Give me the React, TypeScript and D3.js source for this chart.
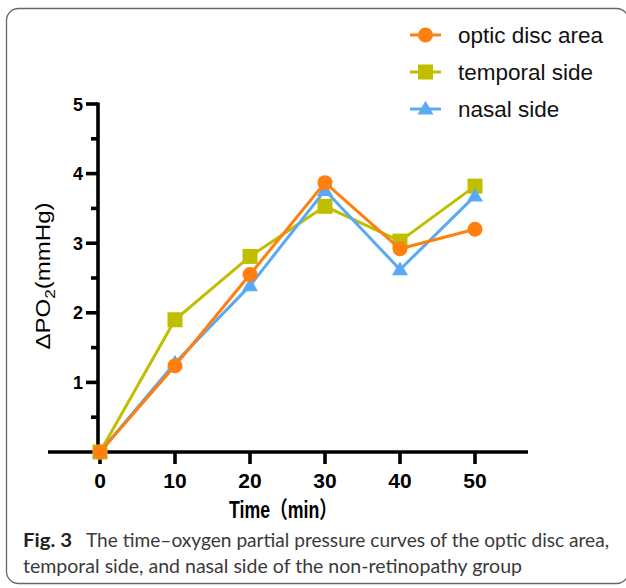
import { useEffect, useRef } from "react"
import * as d3 from "d3"

const times = [0, 10, 20, 30, 40, 50]
const opticDisc = [0, 1.24, 2.55, 3.87, 2.92, 3.2]
const temporal = [0, 1.9, 2.81, 3.53, 3.03, 3.82]
const nasal = [0, 1.28, 2.39, 3.76, 2.62, 3.68]

const seriesNames = ["optic disc area", "temporal side", "nasal side"]
const seriesColors = ["#FF7F0F", "#BFBF00", "#5AA9F5"]
const seriesShapes = ["circle", "square", "triangle"]

const yTicks = [1, 2, 3, 4, 5]

const W = 626
const H = 588

export default function App() {
  const svgRef = useRef<SVGSVGElement>(null)

  useEffect(() => {
    if (!svgRef.current) return
    const svg = d3.select(svgRef.current)
    svg.selectAll("*").remove()

    const x = d3.scaleLinear().domain([0, 50]).range([100, 475])
    const y = d3.scaleLinear().domain([0, 5]).range([452, 104])

    // frame
    svg.append("rect")
      .attr("x", 6.5).attr("y", 8.5)
      .attr("width", 622).attr("height", 575)
      .attr("rx", 12)
      .attr("fill", "#fff")
      .attr("stroke", "#666")
      .attr("stroke-width", 1.3)

    const axisW = 3.6

    // x axis
    svg.append("line")
      .attr("x1", 48).attr("x2", 528)
      .attr("y1", y(0)).attr("y2", y(0))
      .attr("stroke", "#000").attr("stroke-width", axisW)
    times.forEach((t) => {
      svg.append("line")
        .attr("x1", x(t)).attr("x2", x(t))
        .attr("y1", y(0)).attr("y2", y(0) + 12)
        .attr("stroke", "#000").attr("stroke-width", axisW)
      svg.append("text")
        .attr("x", x(t)).attr("y", 488)
        .attr("text-anchor", "middle")
        .attr("font-family", "'Liberation Sans', Arial, sans-serif")
        .attr("font-weight", "bold")
        .attr("font-size", 21)
        .text(t)
    })

    // y axis
    const ax = x(0) - 2
    svg.append("line")
      .attr("x1", ax).attr("x2", ax)
      .attr("y1", y(5) - 1.5).attr("y2", y(0))
      .attr("stroke", "#000").attr("stroke-width", axisW)
    d3.range(0.5, 5.5, 0.5).forEach((v) => {
      const major = Number.isInteger(v)
      svg.append("line")
        .attr("x1", ax - (major ? 12 : 7)).attr("x2", ax)
        .attr("y1", y(v)).attr("y2", y(v))
        .attr("stroke", "#000").attr("stroke-width", axisW)
    })
    yTicks.forEach((v) => {
      svg.append("text")
        .attr("x", 83).attr("y", y(v) + 6.5)
        .attr("text-anchor", "end")
        .attr("font-family", "'Liberation Sans', Arial, sans-serif")
        .attr("font-weight", "bold")
        .attr("font-size", 18)
        .text(v)
    })

    // axis titles
    svg.append("text")
      .attr("x", 283).attr("y", 518)
      .attr("text-anchor", "middle")
      .attr("font-family", "'Liberation Sans', 'Noto Sans CJK SC', sans-serif")
      .attr("font-weight", "bold")
      .attr("font-size", 23)
      .attr("textLength", 108)
      .attr("lengthAdjust", "spacingAndGlyphs")
      .text("Time（min）")

    const yl = svg.append("text")
      .attr("transform", "translate(50,276) rotate(-90)")
      .attr("text-anchor", "middle")
      .attr("font-family", "'Liberation Sans', Arial, sans-serif")
      .attr("font-size", 21)
      .attr("textLength", 147)
      .attr("lengthAdjust", "spacingAndGlyphs")
    yl.append("tspan").text("ΔPO")
    yl.append("tspan").attr("font-size", 15).attr("dy", 5).text("2")
    yl.append("tspan").attr("dy", -5).text("(mmHg)")

    // markers
    const drawMarker = (g: any, shape: string, cx: number, cy: number, color: string) => {
      if (shape === "circle") {
        g.append("circle").attr("cx", cx).attr("cy", cy).attr("r", 7.5).attr("fill", color)
      } else if (shape === "square") {
        g.append("rect").attr("x", cx - 7.5).attr("y", cy - 7.5)
          .attr("width", 15).attr("height", 15).attr("fill", color)
      } else {
        const sym = d3.symbol().type(d3.symbolTriangle).size(110)
        g.append("path").attr("transform", `translate(${cx},${cy + 1})`)
          .attr("d", sym()).attr("fill", color)
      }
    }

    const allSeries = [temporal, nasal, opticDisc]
    const order = [1, 2, 0]
    const line = d3.line<number>().x((_, i) => x(times[i])).y((d) => y(d))

    order.forEach((si, k) => {
      const data = allSeries[k]
      const g = svg.append("g")
      g.append("path")
        .attr("d", line(data) || "")
        .attr("fill", "none")
        .attr("stroke", seriesColors[si])
        .attr("stroke-width", 3)
      data.forEach((v, i) => drawMarker(g, seriesShapes[si], x(times[i]), y(v), seriesColors[si]))
    })

    // legend
    const rows = [35, 72, 109]
    seriesNames.forEach((name, i) => {
      const g = svg.append("g")
      g.append("line")
        .attr("x1", 410).attr("x2", 441)
        .attr("y1", rows[i]).attr("y2", rows[i])
        .attr("stroke", seriesColors[i]).attr("stroke-width", 3)
      drawMarker(g, seriesShapes[i], 425.5, rows[i], seriesColors[i])
      g.append("text")
        .attr("x", 458).attr("y", rows[i] + 8)
        .attr("font-family", "'Liberation Sans', Arial, sans-serif")
        .attr("font-size", 22.5)
        .attr("fill", "#111")
        .text(name)
    })

    // caption
    const capFont = "Lato, 'Open Sans', sans-serif"
    svg.append("text")
      .attr("x", 23).attr("y", 547)
      .attr("font-family", capFont)
      .attr("font-weight", "bold")
      .attr("font-size", 19)
      .attr("fill", "#222")
      .attr("textLength", 49)
      .attr("lengthAdjust", "spacingAndGlyphs")
      .text("Fig. 3")
    svg.append("text")
      .attr("x", 86).attr("y", 547)
      .attr("font-family", capFont)
      .attr("font-size", 19)
      .attr("fill", "#3a3a3a")
      .attr("textLength", 523)
      .attr("lengthAdjust", "spacingAndGlyphs")
      .text("The time–oxygen partial pressure curves of the optic disc area,")
    svg.append("text")
      .attr("x", 23).attr("y", 573)
      .attr("font-family", capFont)
      .attr("font-size", 19)
      .attr("fill", "#3a3a3a")
      .attr("textLength", 499)
      .attr("lengthAdjust", "spacingAndGlyphs")
      .text("temporal side, and nasal side of the non-retinopathy group")
  }, [])

  return (
    <div style={{ position: "absolute", left: 0, top: 0 }}>
      <svg ref={svgRef} width={W} height={H} style={{ display: "block" }} />
    </div>
  )
}
